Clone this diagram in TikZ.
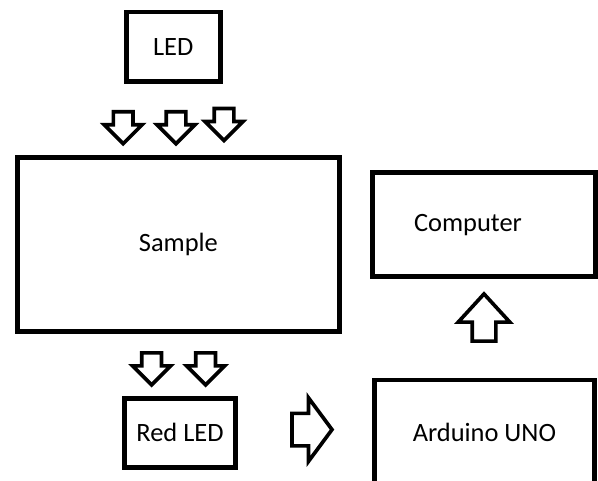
\documentclass[tikz,border=0pt]{standalone}
\usepackage{fontspec}
\setmainfont{Carlito}
\usepackage{tikz}
\usetikzlibrary{positioning, shapes.arrows}
\tikzset{box/.style={rectangle, draw, line width=3.5pt, inner sep=2pt,
    font=\fontsize{18.8}{22}\selectfont},
    blockarrow/.style={single arrow, draw, line width=2.6pt, inner xsep=0pt,
    single arrow head indent=0pt},
    dnarrow/.style={blockarrow, rotate=-90, minimum height=0.8cm,
    minimum width=0.86cm, inner ysep=0.2cm, single arrow head extend=0.23cm}}

\begin{document}
\begin{tikzpicture}
  \useasboundingbox (0,0) rectangle (14.95,12);

  % Boxes
  \node[box, minimum width=2.35cm, minimum height=1.74cm] (LED) at (4.33,10.83) {LED};
  \node[box, minimum width=8.05cm, minimum height=4.35cm] (S) at (4.46,5.89) {Sample};
  \node[box, minimum width=2.78cm, minimum height=1.72cm] (RL) at (4.5,1.18) {Red LED};
  \node[box, minimum width=5.58cm, minimum height=2.6cm] (PC) at (12.1,6.38) {\hspace*{-0.8cm}Computer};
  \node[box, minimum width=5.5cm, minimum height=2.6cm] (UNO) at (12.11,1.2) {Arduino UNO};

  % Block arrows
  \node[dnarrow] (L1) at (3.08,8.93) {};
  \node[dnarrow] (L2) at (4.4,8.93) {};
  \node[dnarrow] (L3) at (5.6,9.01) {};
  \node[dnarrow] (S1) at (3.79,2.9) {};
  \node[dnarrow] (S2) at (5.14,2.9) {};
  \node[blockarrow, minimum height=1.0cm, minimum width=1.5cm, inner ysep=0.36cm,
    single arrow head extend=0.39cm, single arrow tip angle=107] (R) at (7.65,1.26) {};
  \node[blockarrow, rotate=90, minimum height=1.18cm, minimum width=1.2cm, inner ysep=0.25cm,
    single arrow head extend=0.35cm, single arrow tip angle=85] (U) at (12.1,3.9) {};

\end{tikzpicture}
\end{document}
